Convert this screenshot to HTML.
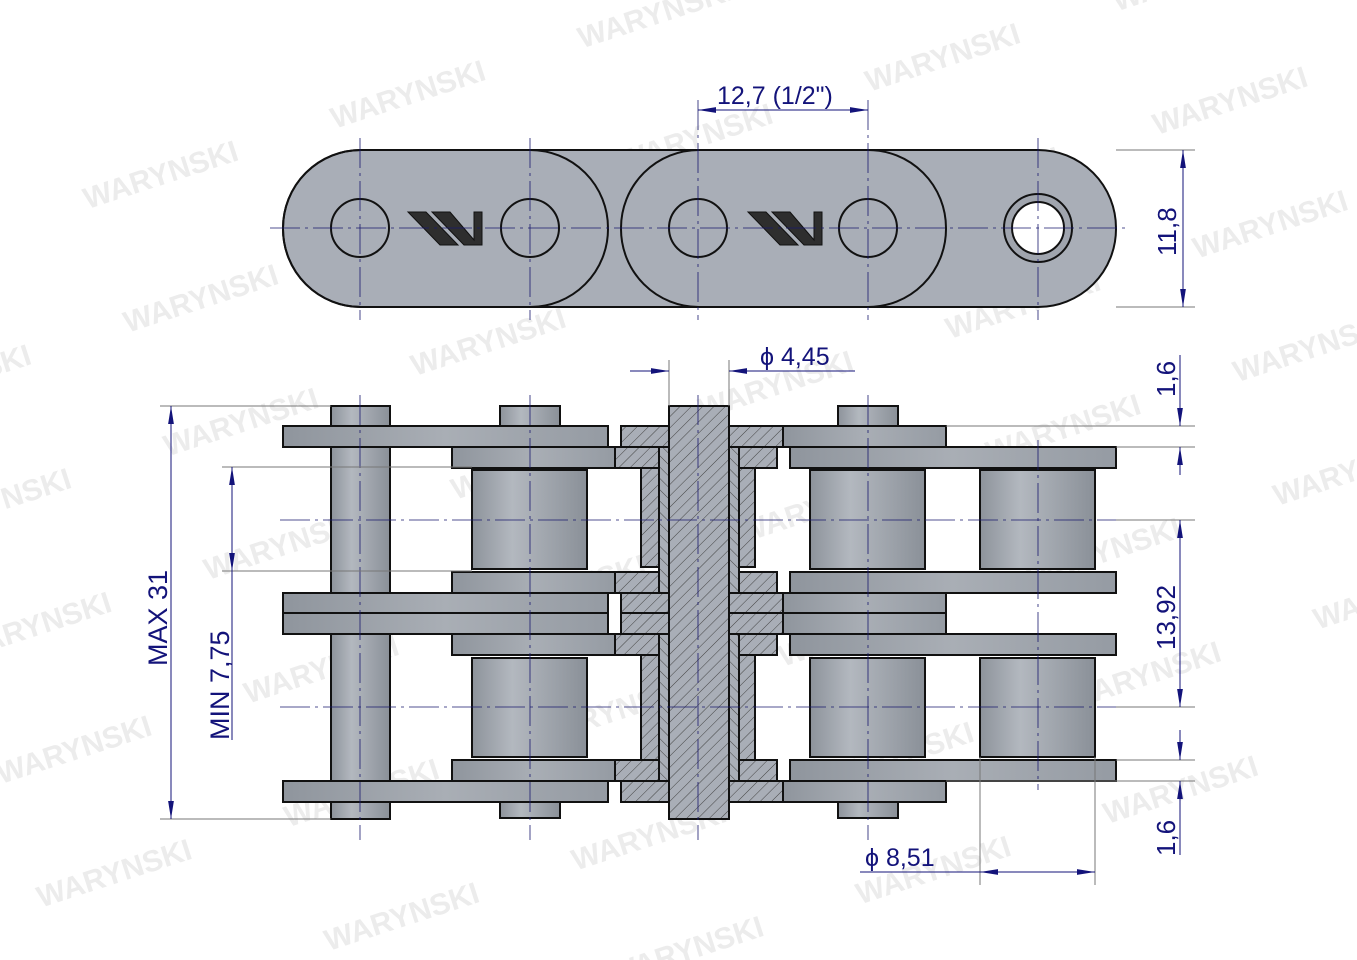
<!DOCTYPE html>
<html><head><meta charset="utf-8"><style>
html,body{margin:0;padding:0;background:#fff;overflow:hidden;width:1357px;height:960px;}
svg{display:block;overflow:hidden;}
text{font-family:"Liberation Sans",sans-serif;}
</style></head><body>
<svg width="1357" height="960" viewBox="0 0 1357 960" xmlns="http://www.w3.org/2000/svg">
<defs>
<linearGradient id="gv" x1="0" x2="1" y1="0" y2="0">
<stop offset="0" stop-color="#8d939b"/><stop offset="0.35" stop-color="#b3b8bf"/><stop offset="1" stop-color="#8a9098"/></linearGradient>
<linearGradient id="gh" x1="0" x2="1" y1="0" y2="0">
<stop offset="0" stop-color="#8f959d"/><stop offset="0.5" stop-color="#a9aeb5"/><stop offset="1" stop-color="#959ba3"/></linearGradient>
<pattern id="hatch" width="8" height="8" patternUnits="userSpaceOnUse" patternTransform="rotate(45)">
<rect width="8" height="8" fill="#a9aeb7"/><line x1="0" y1="0" x2="0" y2="8" stroke="#444" stroke-width="1"/></pattern>
<pattern id="hatch2" width="8" height="8" patternUnits="userSpaceOnUse" patternTransform="rotate(-45)">
<rect width="8" height="8" fill="#a9aeb7"/><line x1="0" y1="0" x2="0" y2="8" stroke="#444" stroke-width="1"/></pattern>
<marker id="ar" viewBox="0 0 10 10" refX="10" refY="5" markerWidth="18" markerHeight="18" orient="auto-start-reverse" markerUnits="userSpaceOnUse"><path d="M0,3.4 L10,5 L0,6.6 z" fill="#13137a"/></marker>
</defs>

<!-- watermarks -->
<g fill="#ececec" font-weight="bold" font-size="30" transform="rotate(-18 678 480)">
<text x="-60" y="40">WARYNSKI</text><text x="200" y="40">WARYNSKI</text><text x="460" y="40">WARYNSKI</text><text x="720" y="40">WARYNSKI</text><text x="980" y="40">WARYNSKI</text><text x="1240" y="40">WARYNSKI</text>
<text x="-60" y="170">WARYNSKI</text><text x="200" y="170">WARYNSKI</text><text x="460" y="170">WARYNSKI</text><text x="720" y="170">WARYNSKI</text><text x="980" y="170">WARYNSKI</text><text x="1240" y="170">WARYNSKI</text>
<text x="-60" y="300">WARYNSKI</text><text x="200" y="300">WARYNSKI</text><text x="460" y="300">WARYNSKI</text><text x="720" y="300">WARYNSKI</text><text x="980" y="300">WARYNSKI</text><text x="1240" y="300">WARYNSKI</text>
<text x="-60" y="430">WARYNSKI</text><text x="200" y="430">WARYNSKI</text><text x="460" y="430">WARYNSKI</text><text x="720" y="430">WARYNSKI</text><text x="980" y="430">WARYNSKI</text><text x="1240" y="430">WARYNSKI</text>
<text x="-60" y="560">WARYNSKI</text><text x="200" y="560">WARYNSKI</text><text x="460" y="560">WARYNSKI</text><text x="720" y="560">WARYNSKI</text><text x="980" y="560">WARYNSKI</text><text x="1240" y="560">WARYNSKI</text>
<text x="-60" y="690">WARYNSKI</text><text x="200" y="690">WARYNSKI</text><text x="460" y="690">WARYNSKI</text><text x="720" y="690">WARYNSKI</text><text x="980" y="690">WARYNSKI</text><text x="1240" y="690">WARYNSKI</text>
<text x="-60" y="820">WARYNSKI</text><text x="200" y="820">WARYNSKI</text><text x="460" y="820">WARYNSKI</text><text x="720" y="820">WARYNSKI</text><text x="980" y="820">WARYNSKI</text><text x="1240" y="820">WARYNSKI</text>
<text x="-60" y="940">WARYNSKI</text><text x="200" y="940">WARYNSKI</text><text x="460" y="940">WARYNSKI</text><text x="720" y="940">WARYNSKI</text><text x="980" y="940">WARYNSKI</text>
</g>

<!-- TOP VIEW -->
<g stroke="#111" stroke-width="2" fill="#a9aeb7">
<rect x="283" y="150" width="833" height="157" rx="78" ry="78"/>
<rect x="283" y="150" width="325" height="157" rx="78" ry="78" fill="none"/>
<rect x="621" y="150" width="325" height="157" rx="78" ry="78" fill="none"/>
<circle cx="360" cy="228" r="29" fill="none"/>
<circle cx="530" cy="228" r="29" fill="none"/>
<circle cx="698" cy="228" r="29" fill="none"/>
<circle cx="868" cy="228" r="29" fill="none"/>
<circle cx="1038" cy="228" r="34" fill="#a0a5ae"/>
<circle cx="1038" cy="228" r="26" fill="#fff"/>
</g>
<g fill="#2e2e2e" stroke="#111" stroke-width="1">
<path d="M408,212 L426,212 L458,245 L440,245 Z"/>
<path d="M432,212 L450,212 L474,240 L474,212 L482,212 L482,245 L464,245 Z"/>
<path d="M748,212 L766,212 L798,245 L780,245 Z"/>
<path d="M772,212 L790,212 L814,240 L814,212 L822,212 L822,245 L804,245 Z"/>
</g>
<g stroke="#1a1a6e" stroke-width="0.8" stroke-dasharray="30,5,3,5" fill="none">
<line x1="270" y1="228" x2="1130" y2="228"/>
<line x1="360" y1="138" x2="360" y2="320"/><line x1="530" y1="138" x2="530" y2="320"/>
<line x1="698" y1="100" x2="698" y2="320"/><line x1="868" y1="100" x2="868" y2="320"/><line x1="1038" y1="138" x2="1038" y2="320"/>
</g>
<g stroke="#777" stroke-width="1" fill="none">
<line x1="1116" y1="150" x2="1195" y2="150"/><line x1="1116" y1="307" x2="1195" y2="307"/>
</g>
<g stroke="#13137a" stroke-width="1" fill="none">
<line x1="698" y1="110" x2="868" y2="110" marker-start="url(#ar)" marker-end="url(#ar)"/>
<line x1="1183" y1="150" x2="1183" y2="307" marker-start="url(#ar)" marker-end="url(#ar)"/>
</g>
<g fill="#13137a" font-size="25">
<text x="717" y="104">12,7  (1/2")</text>
<text transform="translate(1176 256) rotate(-90)" font-size="26">11,8</text>
</g>

<!-- BOTTOM VIEW -->
<g stroke="#111" stroke-width="2">
<rect x="500" y="406" width="60" height="20" fill="url(#gv)"/>
<rect x="838" y="406" width="60" height="20" fill="url(#gv)"/>
<rect x="500" y="802" width="60" height="16" fill="url(#gv)"/>
<rect x="838" y="802" width="60" height="16" fill="url(#gv)"/>
<rect x="472" y="470" width="115" height="99" fill="url(#gv)"/>
<rect x="810" y="470" width="115" height="99" fill="url(#gv)"/>
<rect x="980" y="470" width="115" height="99" fill="url(#gv)"/>
<rect x="472" y="658" width="115" height="99" fill="url(#gv)"/>
<rect x="810" y="658" width="115" height="99" fill="url(#gv)"/>
<rect x="980" y="658" width="115" height="99" fill="url(#gv)"/>
<rect x="331" y="406" width="59" height="413" fill="url(#gv)"/>
<rect x="283" y="426" width="325" height="21" fill="url(#gh)"/>
<rect x="783" y="426" width="163" height="21" fill="url(#gh)"/>
<rect x="283" y="593" width="325" height="20" fill="url(#gh)"/>
<rect x="283" y="613" width="325" height="21" fill="url(#gh)"/>
<rect x="783" y="593" width="163" height="20" fill="url(#gh)"/>
<rect x="783" y="613" width="163" height="21" fill="url(#gh)"/>
<rect x="283" y="781" width="325" height="21" fill="url(#gh)"/>
<rect x="783" y="781" width="163" height="21" fill="url(#gh)"/>
<rect x="452" y="447" width="163" height="21" fill="url(#gh)"/>
<rect x="790" y="447" width="326" height="21" fill="url(#gh)"/>
<rect x="452" y="572" width="163" height="21" fill="url(#gh)"/>
<rect x="790" y="572" width="326" height="21" fill="url(#gh)"/>
<rect x="452" y="634" width="163" height="21" fill="url(#gh)"/>
<rect x="790" y="634" width="326" height="21" fill="url(#gh)"/>
<rect x="452" y="760" width="163" height="21" fill="url(#gh)"/>
<rect x="790" y="760" width="326" height="21" fill="url(#gh)"/>
</g>
<g stroke="#111" stroke-width="2">
<rect x="621" y="426" width="48" height="21" fill="url(#hatch)"/>
<rect x="729" y="426" width="54" height="21" fill="url(#hatch)"/>
<rect x="615" y="447" width="44" height="21" fill="url(#hatch)"/>
<rect x="739" y="447" width="38" height="21" fill="url(#hatch)"/>
<rect x="641" y="468" width="18" height="99" fill="url(#hatch)"/>
<rect x="739" y="468" width="16" height="99" fill="url(#hatch)"/>
<rect x="659" y="447" width="10" height="155" fill="url(#hatch2)"/>
<rect x="729" y="447" width="10" height="155" fill="url(#hatch2)"/>
<rect x="615" y="572" width="44" height="21" fill="url(#hatch)"/>
<rect x="739" y="572" width="38" height="21" fill="url(#hatch)"/>
<rect x="621" y="593" width="48" height="20" fill="url(#hatch)"/>
<rect x="729" y="593" width="54" height="20" fill="url(#hatch)"/>
<rect x="621" y="613" width="48" height="21" fill="url(#hatch)"/>
<rect x="729" y="613" width="54" height="21" fill="url(#hatch)"/>
<rect x="615" y="634" width="44" height="21" fill="url(#hatch)"/>
<rect x="739" y="634" width="38" height="21" fill="url(#hatch)"/>
<rect x="641" y="655" width="18" height="105" fill="url(#hatch)"/>
<rect x="739" y="655" width="16" height="105" fill="url(#hatch)"/>
<rect x="659" y="634" width="10" height="147" fill="url(#hatch2)"/>
<rect x="729" y="634" width="10" height="147" fill="url(#hatch2)"/>
<rect x="615" y="760" width="44" height="21" fill="url(#hatch)"/>
<rect x="739" y="760" width="38" height="21" fill="url(#hatch)"/>
<rect x="621" y="781" width="48" height="21" fill="url(#hatch)"/>
<rect x="729" y="781" width="54" height="21" fill="url(#hatch)"/>
<rect x="669" y="406" width="60" height="413" fill="url(#hatch)"/>
</g>
<g stroke="#1a1a6e" stroke-width="0.8" stroke-dasharray="30,5,3,5" fill="none">
<line x1="360" y1="395" x2="360" y2="840"/><line x1="530" y1="395" x2="530" y2="840"/>
<line x1="698" y1="395" x2="698" y2="840"/><line x1="868" y1="395" x2="868" y2="840"/>
<line x1="1038" y1="440" x2="1038" y2="790"/>
<line x1="280" y1="520" x2="1130" y2="520"/><line x1="280" y1="707" x2="1130" y2="707"/>
</g>
<g stroke="#777" stroke-width="1" fill="none">
<line x1="160" y1="406" x2="331" y2="406"/><line x1="160" y1="819" x2="331" y2="819"/>
<line x1="222" y1="467" x2="472" y2="467"/><line x1="222" y1="571" x2="472" y2="571"/>
<line x1="669" y1="360" x2="669" y2="406"/><line x1="729" y1="360" x2="729" y2="406"/>
<line x1="946" y1="426" x2="1195" y2="426"/><line x1="1116" y1="447" x2="1195" y2="447"/>
<line x1="1116" y1="520" x2="1195" y2="520"/><line x1="1116" y1="707" x2="1195" y2="707"/>
<line x1="1116" y1="760" x2="1195" y2="760"/><line x1="946" y1="781" x2="1195" y2="781"/>
<line x1="980" y1="757" x2="980" y2="885"/><line x1="1095" y1="757" x2="1095" y2="885"/>
</g>
<g stroke="#13137a" stroke-width="1" fill="none">
<line x1="171" y1="406" x2="171" y2="819" marker-start="url(#ar)" marker-end="url(#ar)"/>
<line x1="232" y1="467" x2="232" y2="571" marker-start="url(#ar)" marker-end="url(#ar)"/>
<line x1="232" y1="571" x2="232" y2="740"/>
<line x1="630" y1="371" x2="669" y2="371" marker-end="url(#ar)"/>
<line x1="855" y1="371" x2="729" y2="371" marker-end="url(#ar)"/>
<line x1="1180" y1="355" x2="1180" y2="426" marker-end="url(#ar)"/>
<line x1="1180" y1="475" x2="1180" y2="447" marker-end="url(#ar)"/>
<line x1="1180" y1="520" x2="1180" y2="707" marker-start="url(#ar)" marker-end="url(#ar)"/>
<line x1="1180" y1="730" x2="1180" y2="760" marker-end="url(#ar)"/>
<line x1="1180" y1="855" x2="1180" y2="781" marker-end="url(#ar)"/>
<line x1="860" y1="872" x2="1095" y2="872"/>
<line x1="980" y1="872" x2="1095" y2="872" marker-start="url(#ar)" marker-end="url(#ar)"/>
</g>
<g fill="#13137a" font-size="25">
<text x="760" y="365">ϕ  4,45</text>
<text x="865" y="866">ϕ  8,51</text>
<text transform="translate(167 666) rotate(-90)" font-size="27">MAX  31</text>
<text transform="translate(229 740) rotate(-90)" font-size="27">MIN  7,75</text>
<text transform="translate(1175 397) rotate(-90)" font-size="26">1,6</text>
<text transform="translate(1175 650) rotate(-90)" font-size="26">13,92</text>
<text transform="translate(1175 856) rotate(-90)" font-size="26">1,6</text>
</g>
</svg>
</body></html>
